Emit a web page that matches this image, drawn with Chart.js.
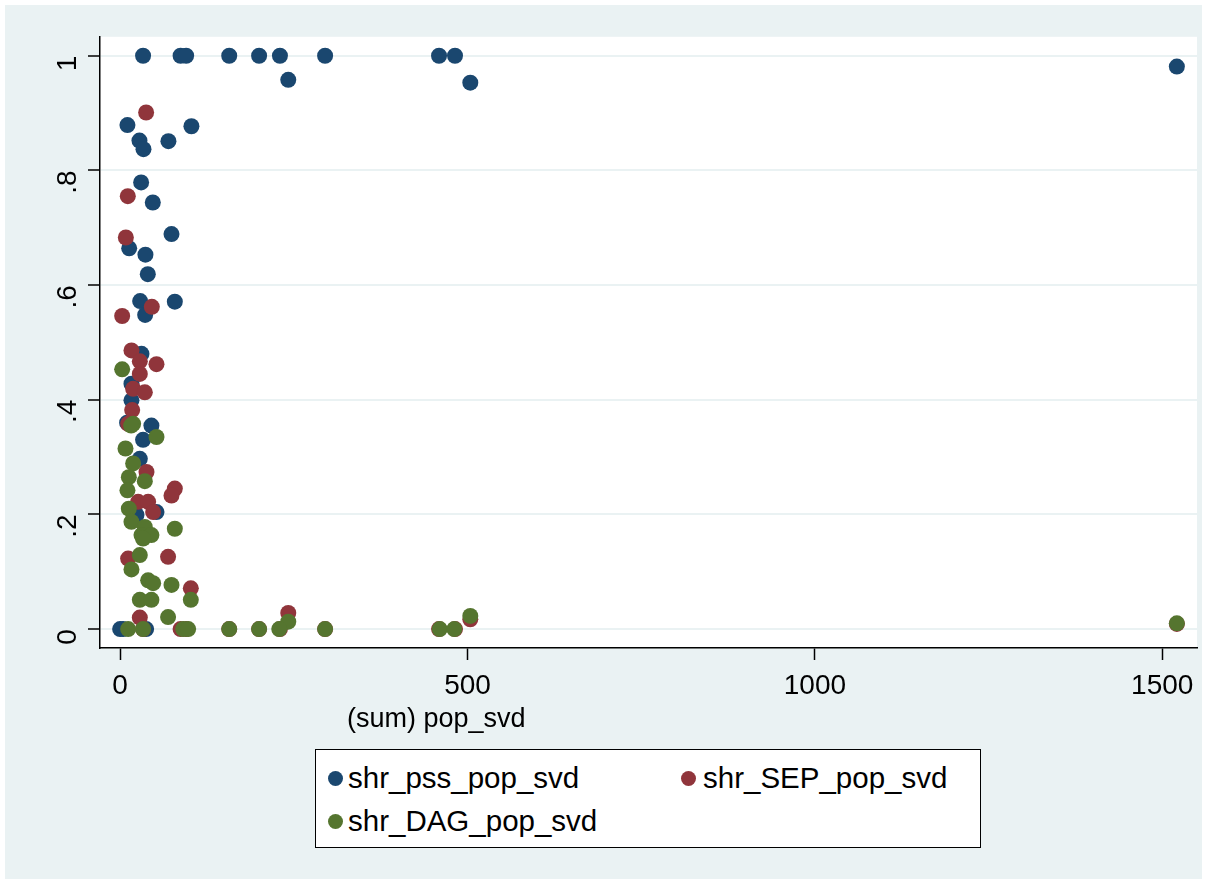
<!DOCTYPE html>
<html>
<head>
<meta charset="utf-8">
<script src="https://cdn.jsdelivr.net/npm/chart.js@4.4.1/dist/chart.umd.min.js"></script>
<style>
  body { margin: 0; background: #fff; font-family: "Liberation Sans", Arial, sans-serif; }
  #wrap { position: relative; width: 1207px; height: 884px; background: #fff; }
  #bg { position: absolute; left: 5px; top: 5px; width: 1197px; height: 874px; background: #EAF2F3; }
  #chart { position: absolute; left: 0; top: 0; }
  .xtitle { position: absolute; top: 701px; left: 347px; font-size: 27px; line-height: 34px; color: #000; white-space: nowrap; }
  #legend { position: absolute; left: 315px; top: 749px; width: 664px; height: 97px; background: #fff; border: 1.5px solid #000; }
  .item { position: absolute; font-size: 29.5px; color: #000; line-height: 32px; white-space: nowrap; }
  .dot { position: absolute; width: 15px; height: 15px; border-radius: 50%; }
</style>
</head>
<body>
<div id="wrap">
  <div id="bg"></div>
  <canvas id="chart" width="1207" height="884"></canvas>
  <div class="xtitle">(sum) pop_svd</div>
  <div id="legend"></div>
</div>
<script>
// Data: (sum) pop_svd on x, share on y, one pair of arrays per series
const pssPop   = [33, 87, 95, 157, 200, 230, 295, 459, 482, 1521, 242, 504,
                  10.5, 102.6, 27.8, 33.6, 69.5, 30.2, 47, 73.9, 13, 36.4, 39.8,
                  28.8, 78.7, 36, 30.7, 16.3, 16.3, 10, 45, 33, 28.3, 52.3, 23.5, 0, 4.3, 37.4];
const pssShare = [1, 1, 1, 1, 1, 1, 1, 1, 1, 0.981, 0.958, 0.953,
                  0.879, 0.877, 0.852, 0.837, 0.851, 0.779, 0.744, 0.689, 0.664, 0.653, 0.619,
                  0.572, 0.571, 0.548, 0.480, 0.428, 0.399, 0.36, 0.355, 0.330, 0.297, 0.204, 0.199, 0, 0, 0];

const sepPop   = [37.4, 11, 8.2, 45.6, 2.9, 16.3, 28.3, 52.3, 28.3, 18.7, 35.5, 17.3, 11.5,
                  37.9, 78.7, 73.9, 25.9, 40.3, 47.5, 11.5, 69, 101.7, 242, 28.3, 504, 1521,
                  33, 87, 95, 157, 200, 230, 295, 459, 482];
const sepShare = [0.901, 0.755, 0.683, 0.562, 0.546, 0.486, 0.467, 0.462, 0.445, 0.419, 0.413, 0.382, 0.358,
                  0.274, 0.245, 0.233, 0.222, 0.222, 0.204, 0.123, 0.126, 0.071, 0.028, 0.020, 0.017, 0.009,
                  0, 0, 0, 0, 0, 0, 0, 0, 0];

const dagPop   = [2.9, 18.7, 15.8, 52.3, 7.7, 18.7, 12.5, 35.5, 10.5, 12.5, 16.3, 35.5, 78.7,
                  30.7, 45, 33, 28.3, 16.3, 40.3, 47.5, 73.9, 101.7, 28.3, 45, 69, 242, 504, 1521,
                  11.5, 33, 90.7, 97.9, 157, 200, 229, 295, 460, 481];
const dagShare = [0.453, 0.358, 0.355, 0.335, 0.315, 0.289, 0.265, 0.258, 0.242, 0.210, 0.187, 0.178, 0.175,
                  0.164, 0.164, 0.158, 0.129, 0.104, 0.085, 0.080, 0.077, 0.051, 0.051, 0.051, 0.021, 0.013, 0.023, 0.010,
                  0, 0, 0, 0, 0, 0, 0, 0, 0, 0];

const xTicks = [0, 500, 1000, 1500];
const yTicks = [0, 0.2, 0.4, 0.6, 0.8, 1];

const seriesNames = ["shr_pss_pop_svd", "shr_SEP_pop_svd", "shr_DAG_pop_svd"];
const seriesColors = ["#1A476F", "#90353B", "#55752F"];

const toPoints = (xs, ys) => xs.map((x, i) => ({ x: x, y: ys[i] }));
const fmtShare = (v) => v === 0 ? "0" : v === 1 ? "1" : String(v).replace(/^0/, "");

// white plot region
const plotBg = {
    id: "plotBg",
    beforeDraw(chart) {
        const a = chart.chartArea;
        const ctx = chart.ctx;
        ctx.save();
        ctx.fillStyle = "#fff";
        ctx.fillRect(a.left, a.top, a.right - a.left, a.bottom - a.top);
        ctx.restore();
    }
};

const makeSet = (i, xs, ys, order) => ({
    label: seriesNames[i],
    data: toPoints(xs, ys),
    backgroundColor: seriesColors[i],
    borderColor: seriesColors[i],
    borderWidth: 0,
    pointRadius: 8,
    pointHoverRadius: 8,
    order: order
});

new Chart(document.getElementById("chart"), {
    type: "scatter",
    data: {
        datasets: [
            makeSet(0, pssPop, pssShare, 3),
            makeSet(1, sepPop, sepShare, 2),
            makeSet(2, dagPop, dagShare, 1)
        ]
    },
    options: {
        responsive: false,
        animation: false,
        layout: { padding: { top: 36, right: 10, left: 0, bottom: 0 } },
        plugins: { legend: { display: false }, tooltip: { enabled: false } },
        scales: {
            x: {
                type: "linear",
                min: -29,
                max: 1550,
                afterBuildTicks: (s) => { s.ticks = xTicks.map(v => ({ value: v })); },
                afterFit: (s) => { s.height = 236; },
                grid: { drawOnChartArea: false, drawTicks: true, tickLength: 12, tickColor: "#000", tickWidth: 1.5 },
                border: { display: true, color: "#000", width: 1.5 },
                ticks: {
                    color: "#000",
                    font: { family: "Liberation Sans", size: 28 },
                    padding: 9,
                    maxRotation: 0,
                    callback: (v) => String(v)
                }
            },
            y: {
                type: "linear",
                min: -0.033,
                max: 1.033,
                afterBuildTicks: (s) => { s.ticks = yTicks.map(v => ({ value: v })); },
                afterFit: (s) => { s.width = 100; },
                grid: { color: "#EAF2F3", lineWidth: 2, tickLength: 12, tickColor: "#000", tickWidth: 1.5 },
                border: { display: true, color: "#000", width: 1.5 },
                ticks: {
                    color: "#000",
                    font: { family: "Liberation Sans", size: 28 },
                    minRotation: 90,
                    maxRotation: 90,
                    padding: 20,
                    callback: (v) => fmtShare(v)
                }
            }
        }
    },
    plugins: [plotBg]
});

// Legend (Stata style box below the plot)
const legendPos = [
    { dot: [12, 21], text: [32, 12] },
    { dot: [365, 21], text: [387, 12] },
    { dot: [12, 64], text: [32, 55] }
];
const legend = document.getElementById("legend");
seriesNames.forEach((name, i) => {
    const p = legendPos[i];
    legend.innerHTML += `<div class="dot" style="left:${p.dot[0]}px; top:${p.dot[1]}px; background:${seriesColors[i]}"></div>
        <div class="item" style="left:${p.text[0]}px; top:${p.text[1]}px">${name}</div>`;
});
</script>
</body>
</html>
